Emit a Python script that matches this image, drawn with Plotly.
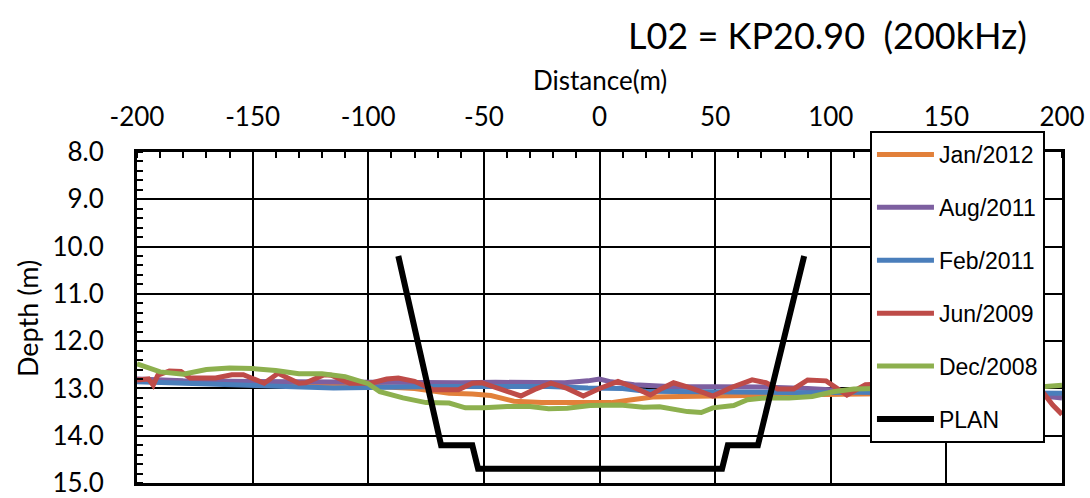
import plotly.graph_objects as go

# ---- data ----
x_ticks = [-200, -150, -100, -50, 0, 50, 100, 150, 200]
x_ticktext = ["-200", "-150", "-100", "-50", "0", "50", "100", "150", "200"]
y_ticks = [8, 9, 10, 11, 12, 13, 14, 15]
y_ticktext = ["8.0", "9.0", "10.0", "11.0", "12.0", "13.0", "14.0", "15.0"]

jan2012_x = [-200, -180, -160, -140, -120, -100, -80, -65, -55, -47, -37, -25, -10, 5, 14, 23, 35, 49, 65, 80, 100, 115, 140, 170, 200]
jan2012_y = [12.84, 12.86, 12.88, 12.90, 12.92, 12.95, 13.00, 13.10, 13.12, 13.15, 13.27, 13.30, 13.30, 13.30, 13.24, 13.18, 13.17, 13.16, 13.14, 13.14, 13.12, 13.12, 13.10, 13.10, 13.12]

aug2011_x = [-200, -180, -160, -140, -120, -100, -80, -60, -45, -30, -15, -5, 0, 5, 15, 30, 50, 70, 90, 105, 115, 140, 170, 190, 200]
aug2011_y = [12.80, 12.84, 12.85, 12.86, 12.86, 12.88, 12.88, 12.88, 12.87, 12.88, 12.88, 12.84, 12.80, 12.86, 12.92, 12.96, 12.96, 12.97, 13.00, 13.04, 13.07, 13.08, 13.10, 13.15, 13.20]

feb2011_x = [-200, -185, -170, -150, -140, -125, -115, -100, -85, -70, -55, -40, -22, -5, 10, 20, 35, 50, 70, 90, 110, 130, 150, 170, 190, 200]
feb2011_y = [12.86, 12.88, 12.92, 12.94, 12.96, 12.96, 12.99, 12.98, 12.96, 12.96, 12.96, 12.96, 12.96, 12.99, 13.00, 13.06, 13.07, 13.08, 13.09, 13.09, 13.08, 13.08, 13.08, 13.08, 13.10, 13.10]

jun2009_x = [-200, -195, -193, -191, -186, -181, -177, -166, -159, -154, -145, -139, -130, -127, -119, -116, -108, -99, -92, -87, -80, -72, -61, -55, -51, -43, -34, -28, -21, -14, -7, 0, 8, 15, 22, 27, 32, 40, 49, 57, 66, 72, 77, 84, 90, 98, 107, 115, 125, 140, 160, 180, 192, 196, 200]
jun2009_y = [12.82, 12.80, 12.93, 12.72, 12.63, 12.64, 12.78, 12.78, 12.71, 12.71, 12.89, 12.68, 12.89, 12.88, 12.71, 12.72, 12.89, 12.89, 12.80, 12.78, 12.85, 13.03, 13.03, 12.89, 12.88, 13.00, 13.16, 13.02, 12.89, 13.00, 13.16, 13.00, 12.85, 12.98, 13.14, 13.00, 12.88, 13.00, 13.16, 12.98, 12.82, 12.88, 13.01, 13.01, 12.82, 12.84, 13.14, 12.92, 12.90, 12.95, 13.00, 13.00, 13.10, 13.35, 13.55]

dec2008_x = [-200, -190, -180, -170, -160, -150, -140, -130, -120, -110, -100, -95, -85, -75, -65, -58, -50, -40, -30, -22, -14, -4, 9, 19, 26, 38, 44, 49, 58, 64, 72, 82, 92, 101, 110, 120, 130, 140, 150, 160, 170, 180, 190, 200]
dec2008_y = [12.48, 12.65, 12.70, 12.60, 12.57, 12.58, 12.62, 12.69, 12.69, 12.75, 12.90, 13.07, 13.20, 13.30, 13.31, 13.41, 13.41, 13.38, 13.38, 13.43, 13.42, 13.36, 13.35, 13.40, 13.39, 13.49, 13.51, 13.41, 13.36, 13.24, 13.20, 13.20, 13.17, 13.07, 13.01, 12.99, 12.99, 13.00, 13.00, 13.02, 13.00, 12.98, 12.97, 12.93]

plan_x = [-87, -68.5, -55, -52.5, 53, 55.5, 68.5, 88.5]
plan_y = [10.2, 14.2, 14.2, 14.7, 14.7, 14.2, 14.2, 10.2]

series = [
    ("Jan/2012", jan2012_x, jan2012_y, "#E2803A"),
    ("Aug/2011", aug2011_x, aug2011_y, "#7D5FA0"),
    ("Feb/2011", feb2011_x, feb2011_y, "#4A7EBB"),
    ("Jun/2009", jun2009_x, jun2009_y, "#BE4B48"),
    ("Dec/2008", dec2008_x, dec2008_y, "#8DB04E"),
    ("PLAN", plan_x, plan_y, "#000000"),
]

fig = go.Figure()
for name, xs, ys, col in series:
    fig.add_trace(go.Scatter(
        x=xs, y=ys, name=name, mode="lines", legendgroup=name,
        line=dict(color=col, width=6 if name == "PLAN" else 5),
    ))

fig.update_layout(
    width=1090, height=498,
    margin=dict(l=137, r=28, t=152, b=15, autoexpand=False),
    paper_bgcolor="white", plot_bgcolor="white",
    showlegend=True,
    legend=dict(
        x=0.7924, y=1.0634, xanchor="left", yanchor="top",
        bgcolor="white", bordercolor="black", borderwidth=2,
        font=dict(family="Liberation Sans", size=23, color="black"),
        tracegroupgap=20, itemwidth=57, maxheight=400,
    ),
    xaxis=dict(
        range=[-200, 200], side="top",
        tickvals=x_ticks, ticktext=x_ticktext,
        showgrid=True, gridcolor="black", gridwidth=2,
        showline=True, linecolor="black", linewidth=3, mirror=True,
        ticks="", zeroline=False,
        tickfont=dict(family="Lato", size=26, color="black"),
        ticklabelstandoff=13, ticklabeloverflow="allow",
        minor=dict(dtick=10, tick0=-200, ticks="inside", ticklen=6, tickwidth=2,
                   tickcolor="black", showgrid=False),
    ),
    yaxis=dict(
        range=[15, 8],
        tickvals=y_ticks, ticktext=y_ticktext,
        showgrid=True, gridcolor="black", gridwidth=2,
        showline=True, linecolor="black", linewidth=3, mirror=True,
        ticks="", zeroline=False,
        tickfont=dict(family="Lato", size=26, color="black"),
        ticklabelstandoff=25, ticklabeloverflow="allow",
        minor=dict(dtick=0.2, tick0=8, ticks="inside", ticklen=6, tickwidth=2,
                   tickcolor="black", showgrid=False),
    ),
    annotations=[
        dict(text="L02 = KP20.90\u00a0\u00a0(200kHz)", xref="paper", yref="paper",
             x=(827 - 137) / 925, y=(483 - 35) / 331, xanchor="center", yanchor="middle",
             showarrow=False, font=dict(family="Lato", size=36, color="black")),
        dict(text="Distance(m)", xref="paper", yref="paper",
             x=(600 - 137) / 925, y=(483 - 80) / 331, xanchor="center", yanchor="middle",
             showarrow=False, font=dict(family="Lato", size=26, color="black")),
        dict(text="Depth (m)", xref="paper", yref="paper", textangle=-90,
             x=(27 - 137) / 925, y=(483 - 319) / 331, xanchor="center", yanchor="middle",
             showarrow=False, font=dict(family="Lato", size=27, color="black")),
    ],
)

fig.write_html("out.html")
